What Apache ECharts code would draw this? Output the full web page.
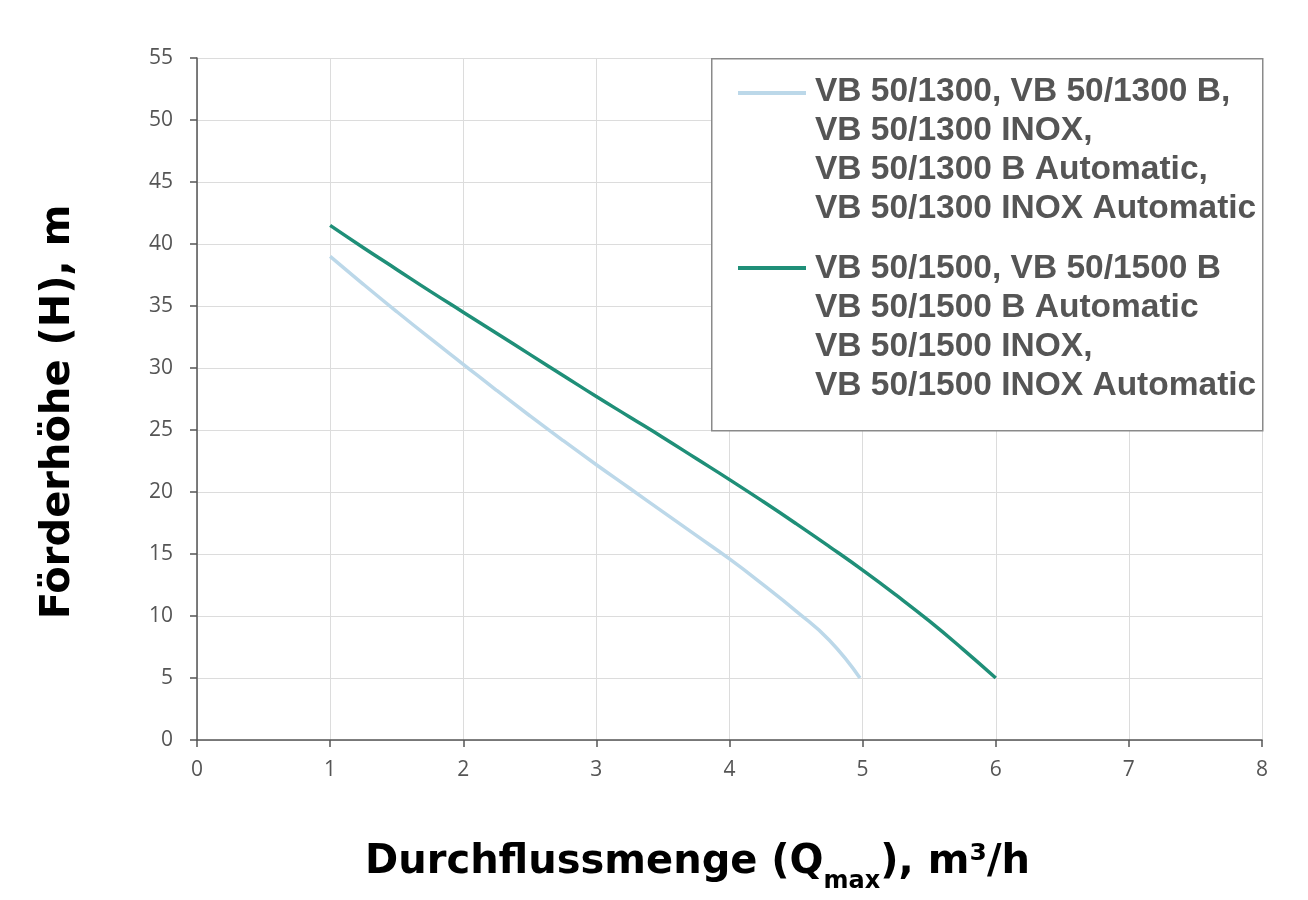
<!DOCTYPE html>
<html>
<head>
<meta charset="utf-8">
<script src="https://cdn.jsdelivr.net/npm/echarts@6/dist/echarts.min.js"></script>
<style>html,body{margin:0;padding:0;background:#fff;}#c{width:1308px;height:900px;}</style>
</head>
<body>
<div id="c"></div>
<script>
var xTicks = [0, 1, 2, 3, 4, 5, 6, 7, 8];
var yTicks = [0, 5, 10, 15, 20, 25, 30, 35, 40, 45, 50, 55];
var q1300 = [1, 1.25, 1.5, 1.75, 2, 2.25, 2.5, 2.75, 3, 3.25, 3.5, 3.75, 4, 4.25, 4.5, 4.75, 4.98];
var h1300 = [39, 36.75, 34.55, 32.4, 30.3, 28.2, 26.15, 24.15, 22.2, 20.3, 18.4, 16.5, 14.6, 12.55, 10.4, 8.05, 5];
var q1500 = [1, 1.25, 1.5, 1.75, 2, 2.25, 2.5, 2.75, 3, 3.25, 3.5, 3.75, 4, 4.25, 4.5, 4.75, 5, 5.25, 5.5, 5.75, 6];
var h1500 = [41.5, 39.7, 37.95, 36.2, 34.5, 32.8, 31.1, 29.4, 27.7, 26.05, 24.4, 22.7, 21.0, 19.25, 17.45, 15.6, 13.7, 11.7, 9.6, 7.35, 5];
var legend1300 = ['VB 50/1300, VB 50/1300 B,', 'VB 50/1300 INOX,', 'VB 50/1300 B Automatic,', 'VB 50/1300 INOX Automatic'];
var legend1500 = ['VB 50/1500, VB 50/1500 B', 'VB 50/1500 B Automatic', 'VB 50/1500 INOX,', 'VB 50/1500 INOX Automatic'];
var colors = ['#bcd8e9', '#1f8f78'];

function pairs(xs, ys) { return xs.map(function (x, i) { return [x, ys[i]]; }); }

var chart = echarts.init(document.getElementById('c'), null, {renderer: 'canvas'});
var legendFont = 'bold 33.5px "Liberation Sans", Arial, sans-serif';
var titleFamily = '"DejaVu Sans"';
chart.setOption({
  backgroundColor: '#fff',
  animation: false,
  grid: {left: 197, right: 46, top: 58, bottom: 160},
  xAxis: {
    type: 'value', min: xTicks[0], max: xTicks[xTicks.length - 1], interval: 1,
    name: '{a|Durchflussmenge (Q}{s|max}{a|), m³/h}',
    nameLocation: 'middle', nameGap: 104,
    nameTextStyle: {
      padding: [0, 64, 0, 0],
      rich: {
        a: {fontFamily: titleFamily, fontWeight: 'bold', fontSize: 40, color: '#000', lineHeight: 50, padding: [0, 0, 11, 0], verticalAlign: 'bottom'},
        s: {fontFamily: titleFamily, fontWeight: 'bold', fontSize: 24, color: '#000', lineHeight: 50, verticalAlign: 'bottom'}
      }
    },
    axisLine: {show: true, lineStyle: {color: '#555', width: 1.5}},
    axisTick: {show: true, length: 7, lineStyle: {color: '#555', width: 1.5}},
    axisLabel: {fontFamily: '"Open Sans"', fontSize: 21, color: '#555', margin: 20},
    splitLine: {show: true, lineStyle: {color: '#dcdcdc', width: 1}}
  },
  yAxis: {
    type: 'value', min: yTicks[0], max: yTicks[yTicks.length - 1], interval: 5,
    name: 'Förderhöhe (H), m',
    nameLocation: 'middle', nameGap: 118, nameRotate: 90,
    nameTextStyle: {fontFamily: titleFamily, fontWeight: 'bold', fontSize: 40, color: '#000', padding: [0, 26, 0, 0]},
    axisLine: {show: true, lineStyle: {color: '#555', width: 1.5}},
    axisTick: {show: true, length: 7, lineStyle: {color: '#555', width: 1.5}},
    axisLabel: {fontFamily: '"Open Sans"', fontSize: 21, color: '#555', margin: 24},
    splitLine: {show: true, lineStyle: {color: '#dcdcdc', width: 1}}
  },
  series: [
    {type: 'line', name: 'VB 50/1300', data: pairs(q1300, h1300), smooth: 0.5, showSymbol: false,
     lineStyle: {color: colors[0], width: 3.5}, itemStyle: {color: colors[0]}},
    {type: 'line', name: 'VB 50/1500', data: pairs(q1500, h1500), smooth: 0.5, showSymbol: false,
     lineStyle: {color: colors[1], width: 3.5}, itemStyle: {color: colors[1]}}
  ],
  graphic: [
    {type: 'rect', left: 711, top: 58, shape: {width: 551, height: 372},
     style: {fill: '#fff', stroke: '#8a8a8a', lineWidth: 1.5}, z: 10},
    {type: 'line', shape: {x1: 738, y1: 93, x2: 806, y2: 93}, style: {stroke: colors[0], lineWidth: 4}, z: 11},
    {type: 'line', shape: {x1: 738, y1: 268, x2: 806, y2: 268}, style: {stroke: colors[1], lineWidth: 4}, z: 11},
    {type: 'text', left: 815, top: 72, z: 11,
     style: {text: legend1300.join('\n'), font: legendFont, fill: '#555555', lineHeight: 39}},
    {type: 'text', left: 815, top: 249, z: 11,
     style: {text: legend1500.join('\n'), font: legendFont, fill: '#555555', lineHeight: 39}}
  ]
});
</script>
</body>
</html>
